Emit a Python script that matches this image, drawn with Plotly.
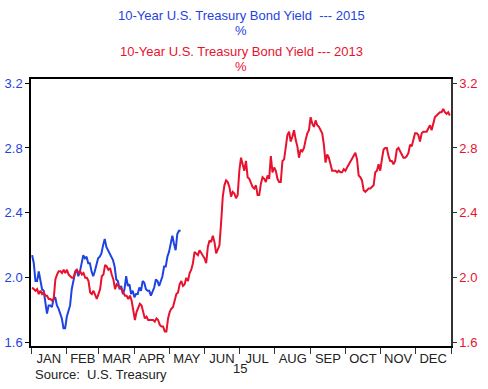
import numpy as np
import pandas as pd
import plotly.graph_objects as go

# 10-Year yield, 2013 (red), evenly spaced trading observations Jan 2 -> Dec 31
yield_2013 = [
    1.94, 1.93, 1.92, 1.93, 1.90, 1.92, 1.90, 1.91, 1.89, 1.89, 1.87, 1.87, 1.86, 1.87,
    1.99, 2.02, 2.04, 2.04, 2.03, 2.05, 2.03, 2.05, 2.02, 2.01, 2.00, 2.00, 2.04, 2.05,
    2.03, 2.04, 2.02, 2.03, 2.00, 2.00, 1.98, 1.91, 1.90, 1.92, 1.89, 1.87, 1.90, 1.93,
    2.01, 2.02, 2.08, 2.07, 2.05,
    2.06, 2.02, 1.99, 1.93, 1.96, 1.95, 1.94, 1.93, 1.91, 1.89, 1.89, 1.87, 1.89, 1.86,
    1.80, 1.74, 1.79, 1.81, 1.84, 1.83, 1.79, 1.75, 1.76, 1.74, 1.74, 1.74, 1.74, 1.73,
    1.75, 1.74, 1.71, 1.70, 1.70, 1.67, 1.67, 1.75, 1.79, 1.81, 1.82, 1.86, 1.90, 1.91,
    1.96, 1.98, 1.95, 1.96, 2.00, 1.98,
    2.03, 2.05, 2.09, 2.16, 2.15, 2.14, 2.17, 2.15, 2.14, 2.12, 2.09, 2.19, 2.23, 2.22,
    2.26, 2.22, 2.15, 2.18, 2.20, 2.34, 2.50, 2.57, 2.60, 2.59, 2.56, 2.50, 2.53, 2.52,
    2.49, 2.51, 2.66, 2.74, 2.70, 2.66, 2.72, 2.62, 2.61, 2.58, 2.56, 2.55, 2.57, 2.51,
    2.51, 2.58, 2.62, 2.61, 2.59, 2.63, 2.61, 2.75, 2.65, 2.68, 2.66, 2.61, 2.59, 2.59,
    2.72, 2.73, 2.82, 2.88, 2.90, 2.84, 2.87, 2.91, 2.85, 2.81, 2.74, 2.79, 2.78, 2.80,
    2.85, 2.89, 2.91, 2.99, 2.95, 2.93, 2.97, 2.94, 2.93, 2.91, 2.89, 2.82, 2.71, 2.76,
    2.74, 2.70, 2.66, 2.66, 2.66, 2.65, 2.66, 2.65, 2.65, 2.67, 2.66, 2.68, 2.70, 2.72,
    2.73, 2.76, 2.77, 2.73, 2.63, 2.62, 2.60, 2.54, 2.53, 2.54, 2.55, 2.55, 2.56, 2.57,
    2.65, 2.66, 2.70, 2.66, 2.73, 2.79, 2.80, 2.80, 2.75, 2.72, 2.72, 2.70, 2.72, 2.79,
    2.80, 2.78, 2.76, 2.74, 2.74, 2.75, 2.77, 2.82, 2.81, 2.85, 2.89, 2.89, 2.88, 2.84,
    2.89, 2.90, 2.90, 2.90, 2.92, 2.94, 2.91, 2.96, 2.99, 3.00, 3.01, 3.02, 3.02, 3.04,
    3.02, 3.01, 3.02, 3.00,
]
start_2013, end_2013 = "2013-01-02", "2013-12-31"

# 10-Year yield, 2015 (blue), evenly spaced Jan 2 -> May 11
yield_2015 = [
    2.14, 2.09, 1.98, 1.98, 2.04, 1.97, 1.93, 1.92, 1.85, 1.78, 1.83, 1.83, 1.82, 1.87,
    1.88, 1.83, 1.81, 1.78, 1.75, 1.69, 1.69, 1.76, 1.80, 1.83, 1.93, 1.99, 2.03, 2.05,
    2.01, 2.04, 2.09, 2.14, 2.12, 2.13, 2.09, 2.09, 2.04, 2.01, 2.04, 2.09, 2.12, 2.13,
    2.15, 2.20, 2.24, 2.19, 2.17, 2.15, 2.12, 2.11, 2.07, 1.99, 1.98, 1.93, 1.95, 1.90,
    1.93, 2.01, 1.95, 1.96, 1.90, 1.92, 1.88, 1.90, 1.90, 1.94, 1.92, 1.98, 1.97, 1.93,
    1.92, 1.92, 1.89, 1.91, 1.94, 1.99, 1.98, 1.95, 1.98, 2.01, 2.07, 2.07, 2.13, 2.16,
    2.21, 2.26, 2.21, 2.17, 2.27, 2.29, 2.29,
]
start_2015, end_2015 = "2015-01-02", "2015-05-11"

month_labels = ["JAN", "FEB", "MAR", "APR", "MAY", "JUN", "JUL", "AUG", "SEP", "OCT", "NOV", "DEC"]
y_ticks = [1.6, 2.0, 2.4, 2.8, 3.2]

BLUE = "#1f43e0"
RED = "#e8122e"

# common (2013) time axis; 2015 dates shifted to the same calendar
x13 = pd.date_range(start_2013, end_2013, periods=len(yield_2013))
x15 = pd.date_range(start_2015, end_2015, periods=len(yield_2015)) - pd.DateOffset(years=2)

month_starts = pd.date_range("2013-01-01", "2014-01-01", freq="MS")
month_mids = [month_starts[i] + (month_starts[i + 1] - month_starts[i]) / 2 for i in range(12)]

fig = go.Figure()
fig.add_trace(go.Scatter(x=x13, y=yield_2013, mode="lines", line=dict(color=RED, width=2),
                         yaxis="y2", showlegend=False))
fig.add_trace(go.Scatter(x=x15, y=yield_2015, mode="lines", line=dict(color=BLUE, width=2),
                         yaxis="y", showlegend=False))

W, H = 488, 389
L, R, T, B = 31, 488 - 451, 79, 389 - 346
PW, PH = W - L - R, H - T - B


def py(y_win):
    """window y pixel -> paper y"""
    return 1 - (y_win - T) / PH


def px(x_win):
    return (x_win - L) / PW


yr = [1.58, 3.225]
fig.update_layout(
    width=W, height=H,
    margin=dict(l=L, r=R, t=T, b=B, autoexpand=False),
    paper_bgcolor="white", plot_bgcolor="white",
    font=dict(family="Liberation Sans, Arial, sans-serif", size=12, color="#222"),
    xaxis=dict(
        range=[month_starts[0], month_starts[-1]], automargin=False,
        tickmode="array", tickvals=month_mids, ticktext=month_labels,
        ticks="", showgrid=False, zeroline=False,
        showline=True, linecolor="black", linewidth=1.5, mirror=True,
        tickfont=dict(size=13, color="#222"),
        minor=dict(tickmode="array", tickvals=list(month_starts), ticks="outside",
                   ticklen=6, tickcolor="#333", tickwidth=1, showgrid=False),
    ),
    yaxis=dict(
        range=yr, tickvals=y_ticks, ticktext=[f"{v:.1f}" for v in y_ticks], automargin=False,
        ticks="outside", ticklen=4, tickcolor="black", showgrid=False, zeroline=False,
        showline=True, linecolor="black", linewidth=1.5,
        tickfont=dict(size=13, color=BLUE),
    ),
    yaxis2=dict(
        range=yr, tickvals=y_ticks, ticktext=[f"{v:.1f}" for v in y_ticks], automargin=False,
        overlaying="y", side="right",
        ticks="outside", ticklen=4, tickcolor="#333", showgrid=False, zeroline=False,
        showline=True, linecolor="#333", linewidth=1.5,
        tickfont=dict(size=13, color=RED),
    ),
)

anns = [
    dict(text="10-Year U.S. Treasury Bond Yield  --- 2015", y=15, color=BLUE),
    dict(text="%", y=30, color=BLUE),
    dict(text="10-Year U.S. Treasury Bond Yield --- 2013", y=51.5, color=RED),
    dict(text="%", y=66.5, color=RED),
]
for a in anns:
    fig.add_annotation(text=a["text"], xref="paper", yref="paper", x=px(241),
                       y=py(a["y"]), xanchor="center", yanchor="middle",
                       showarrow=False, font=dict(size=13, color=a["color"]))

fig.add_annotation(text="15", xref="paper", yref="paper", x=px(240), y=py(368),
                   xanchor="center", yanchor="middle", showarrow=False,
                   font=dict(size=13, color="#222"))
fig.add_annotation(text="Source:  U.S. Treasury", xref="paper", yref="paper", x=px(33),
                   y=py(374), xanchor="left", yanchor="middle", showarrow=False,
                   font=dict(size=13, color="#222"))

# remove the default 8px page margin so the figure fills the window
fig.write_html("out.html", config={"displayModeBar": False},
               post_script="document.body.style.margin='0';")
